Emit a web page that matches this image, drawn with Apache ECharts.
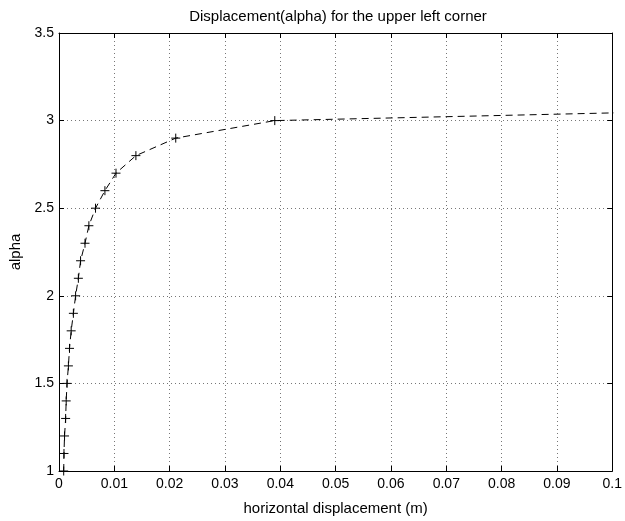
<!DOCTYPE html>
<html>
<head>
<meta charset="utf-8">
<script src="https://cdn.jsdelivr.net/npm/echarts@6/dist/echarts.min.js"></script>
<style>
html,body{margin:0;padding:0;background:#fff;}
#chart{width:625px;height:521px;}
</style>
</head>
<body>
<div id="chart"></div>
<script>
// horizontal displacement (m)
var dispValues = [0.00085, 0.0009, 0.001, 0.0012, 0.0013, 0.00145, 0.0017, 0.0019, 0.0022, 0.0026, 0.003,
                  0.0035, 0.0039, 0.0047, 0.0054, 0.0066, 0.0083, 0.0103, 0.0139, 0.0211, 0.039, 0.178];
// alpha
var alphaValues = [1.0, 1.1, 1.2, 1.3, 1.4, 1.5, 1.6, 1.7, 1.8, 1.9, 2.0,
                   2.1, 2.2, 2.3, 2.4, 2.5, 2.6, 2.7, 2.8, 2.9, 3.0, 3.1];
var xTickLabels = ['0','0.01','0.02','0.03','0.04','0.05','0.06','0.07','0.08','0.09','0.1'];
var yTickLabels = ['1','1.5','2','2.5','3','3.5'];

var points = dispValues.map(function (d, i) { return [d, alphaValues[i]]; });
var FONT = '"Liberation Sans", Arial, Helvetica, sans-serif';

var chart = echarts.init(document.getElementById('chart'), null, {renderer: 'canvas'});
var gridLine = {show: true, lineStyle: {color: '#777', type: [1, 3], width: 1}};
var option = {
  animation: false,
  backgroundColor: '#fff',
  title: {
    text: 'Displacement(alpha) for the upper left corner',
    left: 333, top: 4, textAlign: 'center',
    textStyle: {fontFamily: FONT, fontSize: 15, fontWeight: 'normal', color: '#000'}
  },
  grid: {left: 53, right: 11, top: 33, bottom: 47, show: false, containLabel: false},
  xAxis: [{
    type: 'value', min: 0, max: 0.1, interval: 0.01, position: 'bottom',
    name: 'horizontal displacement (m)', nameLocation: 'middle', nameGap: 30,
    nameTextStyle: {fontFamily: FONT, fontSize: 15, color: '#000'},
    axisLine: {show: true, onZero: false, lineStyle: {color: '#000', width: 1}},
    axisTick: {show: true, inside: true, length: 5, lineStyle: {color: '#000'}},
    axisLabel: {fontFamily: FONT, fontSize: 14, color: '#000', margin: 6,
      formatter: function (v) { return xTickLabels[Math.round(v / 0.01)]; }},
    splitLine: gridLine
  }, {
    type: 'value', min: 0, max: 0.1, interval: 0.01, position: 'top',
    axisLine: {show: true, onZero: false, lineStyle: {color: '#000', width: 1}},
    axisTick: {show: true, inside: true, length: 5, lineStyle: {color: '#000'}},
    axisLabel: {show: false}, splitLine: {show: false}
  }],
  yAxis: [{
    type: 'value', min: 1, max: 3.5, interval: 0.5, position: 'left',
    name: 'alpha', nameLocation: 'middle', nameGap: 36, nameRotate: 90,
    nameTextStyle: {fontFamily: FONT, fontSize: 15, color: '#000'},
    axisLine: {show: true, onZero: false, lineStyle: {color: '#000', width: 1}},
    axisTick: {show: true, inside: true, length: 5, lineStyle: {color: '#000'}},
    axisLabel: {fontFamily: FONT, fontSize: 14, color: '#000', margin: 5,
      formatter: function (v) { return yTickLabels[Math.round((v - 1) / 0.5)]; }},
    splitLine: gridLine
  }, {
    type: 'value', min: 1, max: 3.5, interval: 0.5, position: 'right',
    axisLine: {show: true, onZero: false, lineStyle: {color: '#000', width: 1}},
    axisTick: {show: true, inside: true, length: 5, lineStyle: {color: '#000'}},
    axisLabel: {show: false}, splitLine: {show: false}
  }],
  series: [{
    type: 'line',
    xAxisIndex: 0, yAxisIndex: 0,
    data: points,
    clip: true,
    showAllSymbol: true,
    symbol: 'path://M5,0L5,10M0,5L10,5',
    symbolSize: 9,
    itemStyle: {color: 'rgba(0,0,0,0)', borderColor: '#000', borderWidth: 1},
    lineStyle: {color: '#000', width: 1, type: [7, 5]}
  }]
};
chart.setOption(option);
</script>
</body>
</html>
